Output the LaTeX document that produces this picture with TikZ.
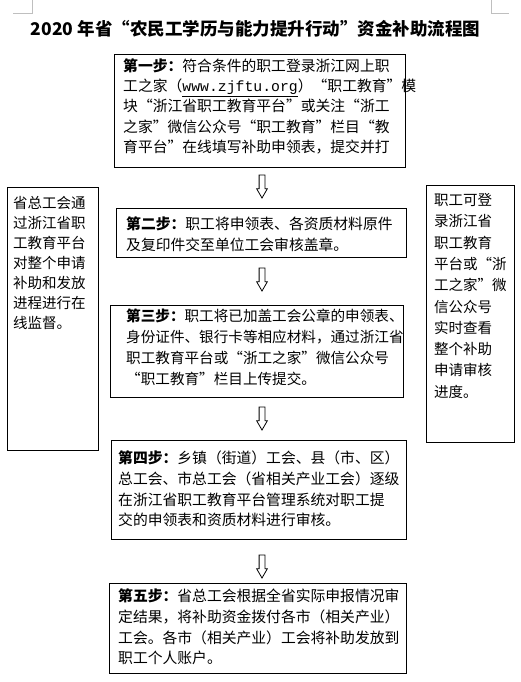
\documentclass[tikz,border=0pt]{standalone}
\usepackage{fontspec}
\setmainfont{Noto Sans CJK SC}
\newfontfamily\urlfont{Liberation Mono}
\usetikzlibrary{shapes.arrows}

\begin{document}
\begin{tikzpicture}[x=1pt, y=-1pt,
  stepbox/.style={draw, line width=1pt, anchor=north west, inner sep=0pt},
  steptext/.style={anchor=base west, align=left, inner sep=0pt, font=\fontsize{14.8}{20.8}\selectfont},
  flowarrow/.style={draw, line width=0.8pt, shape=single arrow, rotate=-90, minimum height=23pt,
    inner sep=2.5pt, single arrow head extend=2.5pt, single arrow tip angle=60},
  cornermark/.style={draw=black!25, line width=0.8pt}]
\useasboundingbox (0,0) rectangle (521,682);
% page corner marks
\draw[cornermark] (32,0) -- (32,13) -- (13,13);
\draw[cornermark] (491,0) -- (491,13) -- (509,13);
% title
\node[font=\fontsize{17.5}{20}\selectfont\bfseries] (title) at (255.5,29) {2020 年省“农民工学历与能力提升行动”资金补助流程图};
% steps (text nodes sit on the baseline of their last line)
\node[stepbox, minimum width=291pt, minimum height=113pt] (step1) at (114,54) {};
\node[steptext, font=\fontsize{14.8}{20.2}\selectfont] (text1) at (123,152.3) {\textbf{第一步：}符合条件的职工登录浙江网上职\\
工之家（\underline{\urlfont www.zjftu.org}）“职工教育”模\\
块“浙江省职工教育平台”或关注“浙工\\
之家”微信公众号“职工教育”栏目“教\\
育平台”在线填写补助申领表，提交并打};
\node[stepbox, minimum width=290pt, minimum height=49pt] (step2) at (116,208) {};
\node[steptext] (text2) at (126,250.3) {\textbf{第二步：}职工将申领表、各资质材料原件\\
及复印件交至单位工会审核盖章。};
\node[stepbox, minimum width=293pt, minimum height=92pt] (step3) at (110,305) {};
\node[steptext, font=\fontsize{14.6}{20.8}\selectfont] (text3) at (126,384) {\textbf{第三步：}职工将已加盖工会公章的申领表、\\
身份证件、银行卡等相应材料，通过浙江省\\
职工教育平台或“浙工之家”微信公众号\\
“职工教育”栏目上传提交。};
\node[stepbox, minimum width=295pt, minimum height=99pt] (step4) at (111,440) {};
\node[steptext] (text4) at (118,525.9) {\textbf{第四步：}乡镇（街道）工会、县（市、区）\\
总工会、市总工会（省相关产业工会）逐级\\
在浙江省职工教育平台管理系统对职工提\\
交的申领表和资质材料进行审核。};
\node[stepbox, minimum width=297pt, minimum height=90pt] (step5) at (109,583) {};
\node[steptext] (text5) at (118,663.9) {\textbf{第五步：}省总工会根据全省实际申报情况审\\
定结果，将补助资金拨付各市（相关产业）\\
工会。各市（相关产业）工会将补助发放到\\
职工个人账户。};
% arrows
\node[flowarrow] (arrow1) at (262,184) {};
\node[flowarrow] (arrow2) at (262,277) {};
\node[flowarrow] (arrow3) at (262,416) {};
\node[flowarrow] (arrow4) at (262,564) {};
% side notes
\node[stepbox, minimum width=91pt, minimum height=263pt] (monitor) at (7,187) {};
\node[steptext, font=\fontsize{14.5}{20}\selectfont] (monitortext) at (13,328.5) {省总工会通\\过浙江省职\\工教育平台\\对整个申请\\补助和发放\\进程进行在\\线监督。};
\node[stepbox, minimum width=88pt, minimum height=257pt] (query) at (426,185) {};
\node[steptext, font=\fontsize{14.5}{21.3}\selectfont] (querytext) at (434,397.2) {职工可登\\录浙江省\\职工教育\\平台或“浙\\工之家”微\\信公众号\\实时查看\\整个补助\\申请审核\\进度。};
\end{tikzpicture}
\end{document}
